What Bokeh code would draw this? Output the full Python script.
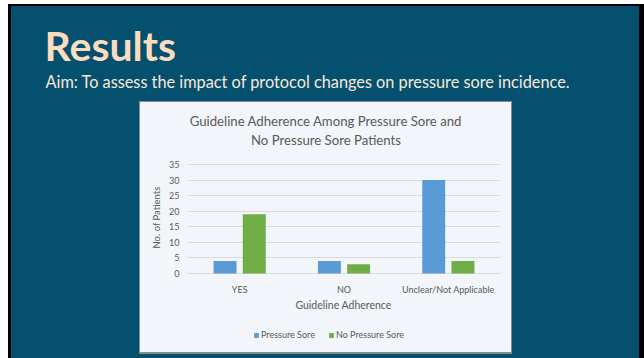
from bokeh.plotting import figure
from bokeh.models import (Range1d, Legend, LegendItem, ColumnDataSource, FixedTicker, Title)
from bokeh.transform import dodge
from bokeh.embed import file_html
from bokeh.resources import INLINE
from bokeh.core.properties import value

# ---- data ----
categories = ["YES", "NO", "Unclear/Not Applicable"]
pressure_sore = [4, 4, 30]
no_pressure_sore = [19, 3, 4]
series_names = ["Pressure Sore", "No Pressure Sore"]
y_ticks = [0, 5, 10, 15, 20, 25, 30, 35]

slide_title = "Results"
aim_line = "Aim: To assess the impact of protocol changes on pressure sore incidence."
chart_title = ["Guideline Adherence Among Pressure Sore and", "No Pressure Sore Patients"]
x_label = "Guideline Adherence"
y_label = "No. of Patients"

# ---- styling ----
TEAL = "#06506f"
CREAM = "#fbdcbf"
AIMC = "#f8e8d8"
BOX = "#f2f5fa"
EDGE = "#8a8a8a"
GRAY = "#595959"
BLUE = "#5b9bd5"
GREEN = "#70ad47"
FONT = "Lato"

PW, PH = 644, 358                          # whole picture
BX0, BX1, BY0, BY1 = 140, 511, 102, 352    # chart box (page px)
FL, FR = 187, 500                          # plot area left/right (page px)
Y0, Y35 = 273, 164                         # page y of the 0 and 35 gridlines
FT, FBOT = 90, 344                         # drawing frame top/bottom (page px)
YMAX = max(y_ticks)
PX_PER_Y = (Y0 - Y35) / YMAX
NCAT = len(categories)


def dx(xp):
    return (xp - FL) / (FR - FL) * NCAT


def dy(yp):
    return (Y0 - yp) / PX_PER_Y


xc = [i + 0.5 for i in range(NCAT)]
src = ColumnDataSource(dict(xc=xc, ps=pressure_sore, nps=no_pressure_sore))

p = figure(width=PW, height=PH, x_range=Range1d(0, NCAT), y_range=Range1d(dy(FBOT), dy(FT)),
           output_backend="svg", toolbar_location=None, title=None,
           min_border_left=FL, min_border_right=PW - FR, min_border_top=FT,
           min_border_bottom=PH - FBOT)
p.border_fill_alpha = 0
p.background_fill_alpha = 0
p.outline_line_color = None
p.styles = {
    "background": (
        f"linear-gradient({BOX},{BOX}) {BX0}px {BY0}px / {BX1 - BX0}px {BY1 - BY0}px no-repeat, "
        f"linear-gradient({EDGE},{EDGE}) {BX0 - 1}px {BY0 - 1}px / {BX1 - BX0 + 2}px {BY1 - BY0 + 3}px no-repeat, "
        f"linear-gradient({TEAL},{TEAL}) 11px 6px / 628px {PH}px no-repeat, "
        f"linear-gradient(black,black) 8px 4px / 636px {PH}px no-repeat, white"
    )
}

r1 = p.vbar(x=dodge("xc", -0.14), top="ps", width=0.22, source=src,
            fill_color=BLUE, line_color=None)
r2 = p.vbar(x=dodge("xc", 0.14), top="nps", width=0.22, source=src,
            fill_color=GREEN, line_color=None)

# chart title and x-axis title
p.text(x=[dx(325.5)] * 2, y=[dy(120), dy(139.5)], text=chart_title, text_font=value(FONT),
       text_font_size="13.2px", text_color=GRAY, text_align="center", text_baseline="middle")
p.text(x=[dx(343)], y=[dy(304)], text=[x_label], text_font=value(FONT),
       text_font_size="10.5px", text_color=GRAY, text_align="center", text_baseline="middle")

p.xgrid.visible = False
p.ygrid.grid_line_color = "#d9d9d9"
p.ygrid.grid_line_width = 1

p.yaxis.ticker = FixedTicker(ticks=y_ticks)
p.yaxis.bounds = (0, YMAX)
p.xaxis.ticker = FixedTicker(ticks=xc)
p.xaxis.major_label_overrides = {x: c for x, c in zip(xc, categories)}
p.xaxis.bounds = (0, NCAT)
p.xaxis.fixed_location = dy(283)
for ax in (p.xaxis, p.yaxis):
    ax.axis_line_color = None
    ax.major_tick_line_color = None
    ax.minor_tick_line_color = None
    ax.major_tick_out = 0
    ax.minor_tick_out = 0
    ax.major_label_text_font = FONT
    ax.major_label_text_font_size = "9px"
    ax.major_label_text_color = GRAY
    ax.axis_label_text_font = FONT
    ax.axis_label_text_font_style = "normal"
    ax.axis_label_text_color = GRAY
p.yaxis.major_label_standoff = 8
p.yaxis.axis_label = y_label
p.yaxis.axis_label_text_font_size = "9.5px"
p.yaxis.axis_label_standoff = 4
p.xaxis.major_label_standoff = 0

# slide headings (titles stack outward from the frame)
p.add_layout(Title(text=aim_line, align="left", offset=45 - FL, standoff=0,
                   text_font=FONT, text_font_size="16.3px", text_font_style="normal",
                   text_color=AIMC), "above")
p.add_layout(Title(text=slide_title, align="left", offset=44 - FL, standoff=0,
                   text_font=FONT, text_font_size="41px", text_font_style="bold",
                   text_color=CREAM), "above")

legend = Legend(items=[LegendItem(label=series_names[0], renderers=[r1]),
                       LegendItem(label=series_names[1], renderers=[r2])],
                orientation="horizontal", location=(66, 4))
legend.border_line_color = None
legend.background_fill_alpha = 0
legend.padding = 0
legend.margin = 0
legend.spacing = 13
legend.label_standoff = 2
legend.glyph_width = 6
legend.glyph_height = 6
legend.label_height = 10
legend.label_text_font = FONT
legend.label_text_font_size = "9px"
legend.label_text_color = GRAY
p.add_layout(legend, "center")

open("out.html", "w").write(file_html(p, INLINE))
